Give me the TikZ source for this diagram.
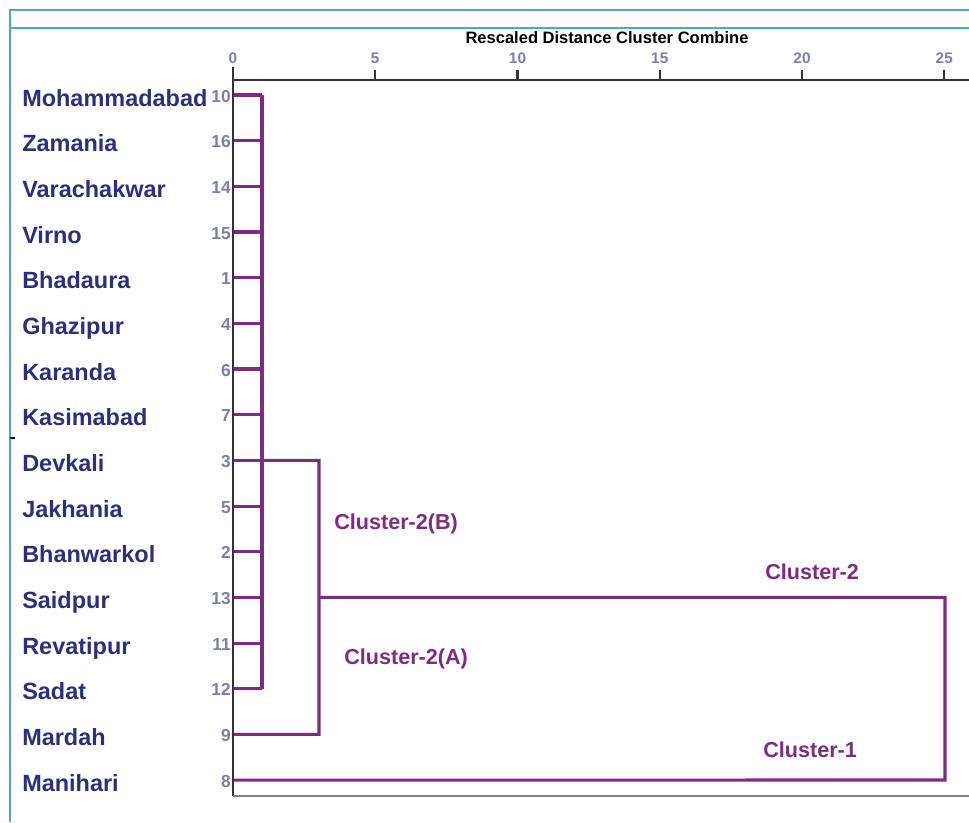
\documentclass[tikz,border=0pt]{standalone}
\usepackage{fontspec}
\setmainfont{Liberation Sans}
\definecolor{navy}{HTML}{2B2F7E}
\definecolor{numcol}{HTML}{7A7EB2}
\definecolor{clus}{HTML}{7E2B84}
\definecolor{frame}{HTML}{4BAAC6}
\definecolor{axis}{HTML}{333333}
\begin{document}
\begin{tikzpicture}[x=0.75pt,y=-0.75pt,
  namelab/.style={anchor=base west,inner sep=0pt,text=navy,font=\fontsize{17.6}{17.6}\selectfont\bfseries},
  numlab/.style={anchor=base east,inner sep=0pt,text=numcol,font=\fontsize{13}{13}\selectfont\bfseries},
  ticklab/.style={anchor=base,inner sep=0pt,text=numcol,font=\fontsize{11.5}{11.5}\selectfont\bfseries},
  clab/.style={anchor=base west,inner sep=0pt,text=clus,font=\fontsize{16.2}{16.2}\selectfont\bfseries},
  link/.style={draw=clus,line width=2.3pt},
  axln/.style={draw=axis,line width=1.6pt},
  frameln/.style={draw=frame,line width=1.4pt}]
\useasboundingbox (0,0) rectangle (969,822);
\fill[white] (0,0) rectangle (969,822);
% frame
\draw[frameln] (969,10) -- (10,10) -- (10,822);
\draw[frameln] (10,28) -- (969,28);
\draw[black,line width=0.8pt] (10,438) -- (15,438);
% title
\node[anchor=base,inner sep=0pt,font=\fontsize{12.4}{12.4}\selectfont\bfseries] (title) at (607,43) {Rescaled Distance Cluster Combine};
% axes
\draw[axln] (233,80) -- (969,80);
\draw[axln] (233,67) -- (233,796);
\draw[draw=gray,line width=1.6pt] (233,796) -- (969,796);
\foreach \v in {0,5,10,15,20,25}{
  \pgfmathsetmacro{\xx}{233+28.45*\v}
  \draw[axln] (\xx,70) -- (\xx,80);
  \node[ticklab] (t\v) at (\xx,63) {\v};
}
% leaves
\foreach \i/\num/\nm in {0/10/Mohammadabad,1/16/Zamania,2/14/Varachakwar,3/15/Virno,4/1/Bhadaura,5/4/Ghazipur,6/6/Karanda,7/7/Kasimabad,8/3/Devkali,9/5/Jakhania,10/2/Bhanwarkol,11/13/Saidpur,12/11/Revatipur,13/12/Sadat,14/9/Mardah,15/8/Manihari}{
  \pgfmathsetmacro{\yy}{95+45.67*\i}
  \node[namelab] (n\i) at (22,\yy+11) {\nm};
  \node[numlab] (c\i) at (231,\yy+7) {\num};
  \coordinate (l\i) at (234,\yy);
}
% junctions
\coordinate (j1top) at (262,95);
\coordinate (j1bot) at (262,689.4);
\coordinate (j1mid) at (262,460.4);
\coordinate (j2top) at (319,460.4);
\coordinate (j2bot) at (319,734.4);
\coordinate (j2mid) at (319,597.4);
\coordinate (j3top) at (945,597.4);
\coordinate (j3bot) at (945,780);
\foreach \i in {0,...,13}{
  \draw[link] (l\i) -- (l\i -| j1top);
}
\draw[link] (j1top) -- (j1bot);
\draw[link] (j1mid) -- (j2top) -- (j2bot) -- (l14);
\draw[link] (j2mid) -- (j3top) -- (j3bot) -- (l15);
% cluster labels
\node[clab] (cb) at (334,529) {Cluster-2(B)};
\node[clab] (ca) at (344,664) {Cluster-2(A)};
\node[clab] (c2) at (765,579) {Cluster-2};
\node[clab] (c1) at (763,757) {Cluster-1};
\end{tikzpicture}
\end{document}
